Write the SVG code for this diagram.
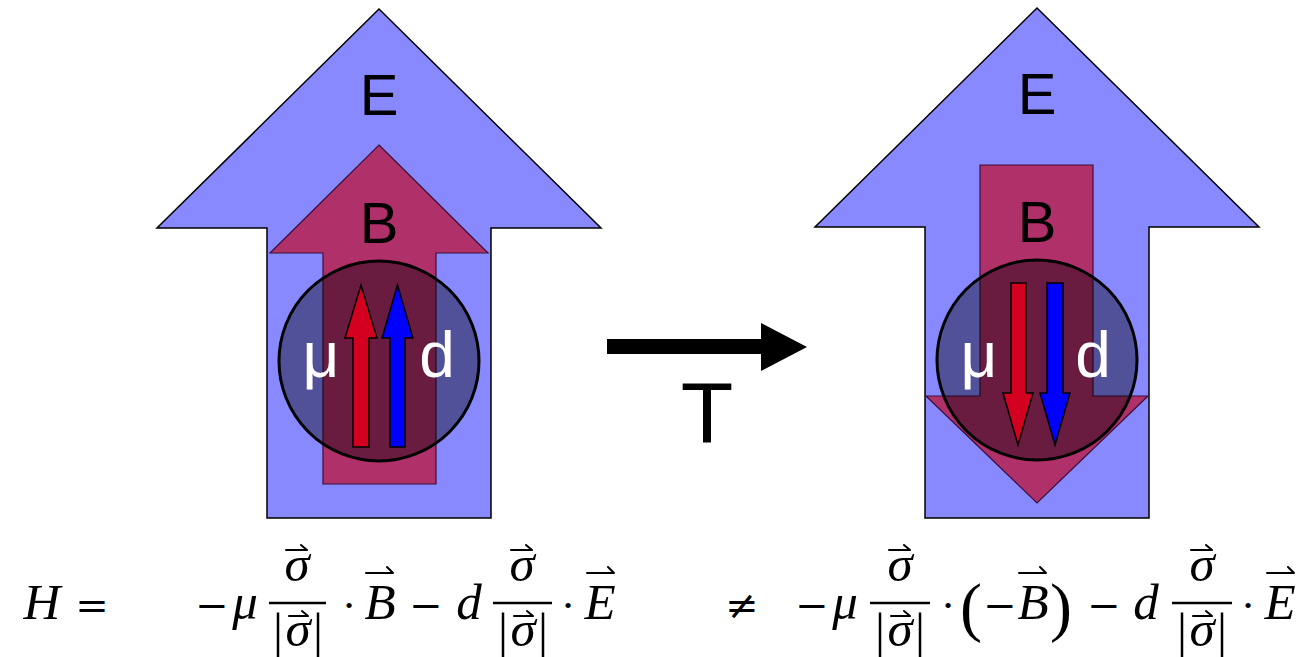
<svg xmlns="http://www.w3.org/2000/svg" width="1306" height="657" viewBox="0 0 1306 657">
<style>
.efld{fill:#8888ff;stroke:#000;stroke-width:1.5;stroke-linejoin:miter}
.bfld{fill:#b0306a;stroke:#3a1038;stroke-width:1.2}
.atom{fill:#000;fill-opacity:0.4;stroke:#000;stroke-width:3}
.mu{fill:#d40020;stroke:#000;stroke-width:1.5}
.dd{fill:#0000ff;stroke:#000;stroke-width:1.5}
.lbl{font-family:"Liberation Sans",Arial,sans-serif;font-size:58px;fill:#000;text-anchor:middle}
.wl{font-family:"Liberation Sans",Arial,sans-serif;font-size:64px;fill:#fff;text-anchor:middle}
.m{font-family:"Liberation Serif","Times New Roman",serif;font-style:italic;font-size:51px;fill:#000;text-anchor:middle}
.o{font-family:"DejaVu Serif",serif;font-size:40px;fill:#000;text-anchor:middle}
.vb{font-family:"Liberation Serif","Times New Roman",serif;font-size:50px;fill:#000;text-anchor:middle}
.par{font-family:"Liberation Serif","Times New Roman",serif;font-size:66px;fill:#000;text-anchor:middle}
.bar{stroke:#000;stroke-width:2.5}
.vec{stroke:#000;stroke-width:2;fill:none;stroke-linecap:round}
</style>

<g id="before">
  <polygon class="efld" points="379,9 601,228 491,228 491,518 267,518 267,228 157,228"/>
  <polygon class="bfld" points="379,145 488,253 436,253 436,484 323,484 323,253 270,253"/>
  <circle class="atom" cx="379" cy="361" r="100"/>
  <polygon class="mu" points="361,285 377,338 369,338 369,447 353,447 353,338 345,338"/>
  <polygon class="dd" points="397.5,285 413,338 405,338 405,447 390,447 390,338 382,338"/>
  <text class="lbl" x="379" y="115">E</text>
  <text class="lbl" x="379" y="243">B</text>
  <text class="wl" x="321" y="377">μ</text>
  <text class="wl" x="437" y="377">d</text>
</g>

<g id="after">
  <polygon class="efld" points="1037,8 1259,227 1149,227 1149,518 925,518 925,227 815,227"/>
  <polygon class="bfld" points="980,165 1093,165 1093,396 1148,396 1037,503 926,396 980,396"/>
  <circle class="atom" cx="1037" cy="360" r="100"/>
  <polygon class="mu" points="1011,283 1026,283 1026,393 1033,393 1018,445 1003,393 1011,393"/>
  <polygon class="dd" points="1047,283 1063,283 1063,393 1070,393 1055,445 1040,393 1047,393"/>
  <text class="lbl" x="1037" y="114">E</text>
  <text class="lbl" x="1037" y="242">B</text>
  <text class="wl" x="979" y="377">μ</text>
  <text class="wl" x="1093" y="377">d</text>
</g>

<g id="connectors">
  <g id="t-arrow">
    <polygon fill="#000" points="607,339 761,339 761,323 807,347 761,371 761,354 607,354"/>
    <text class="lbl" x="707" y="442" style="font-size:86px">T</text>
  </g>
</g>

<g id="equation-left">
  <text class="m" x="42" y="619">H</text>
  <text class="o" x="92" y="619">=</text>
  <text class="o" x="212" y="619">−</text>
  <text class="m" x="245" y="619">μ</text>
  <text class="m" x="297" y="581">σ</text>
  <path class="vec" d="M286 550 H307 M301 545 L307 550"/>
  <line class="bar" x1="269" y1="603" x2="326" y2="603"/>
  <text class="vb" x="278" y="648">|</text>
  <text class="m" x="298" y="646">σ</text>
  <text class="vb" x="318" y="648">|</text>
  <path class="vec" d="M289 616 H308 M302 611 L308 616"/>
  <text class="o" x="349" y="619">·</text>
  <text class="m" x="380" y="619">B</text>
  <path class="vec" d="M366 573 H393 M387 567 L393 573"/>
  <text class="o" x="426" y="619">−</text>
  <text class="m" x="469" y="619">d</text>
  <text class="m" x="522" y="581">σ</text>
  <path class="vec" d="M511 550 H532 M526 545 L532 550"/>
  <line class="bar" x1="493" y1="603" x2="552" y2="603"/>
  <text class="vb" x="503" y="648">|</text>
  <text class="m" x="523" y="646">σ</text>
  <text class="vb" x="543" y="648">|</text>
  <path class="vec" d="M514 616 H533 M527 611 L533 616"/>
  <text class="o" x="568" y="619">·</text>
  <text class="m" x="600" y="619">E</text>
  <path class="vec" d="M587 573 H614 M608 567 L614 573"/>
</g>

<g id="equation-right">
  <text class="o" x="742" y="619">≠</text>
  <text class="o" x="812" y="619">−</text>
  <text class="m" x="845" y="619">μ</text>
  <text class="m" x="900" y="581">σ</text>
  <path class="vec" d="M889 550 H910 M904 545 L910 550"/>
  <line class="bar" x1="870" y1="603" x2="930" y2="603"/>
  <text class="vb" x="880" y="648">|</text>
  <text class="m" x="900" y="646">σ</text>
  <text class="vb" x="920" y="648">|</text>
  <path class="vec" d="M891 616 H910 M904 611 L910 616"/>
  <text class="o" x="948" y="619">·</text>
  <text class="par" x="971" y="629">(</text>
  <text class="o" x="1000" y="619">−</text>
  <text class="m" x="1033" y="619">B</text>
  <path class="vec" d="M1019 573 H1046 M1040 567 L1046 573"/>
  <text class="par" x="1061" y="629">)</text>
  <text class="o" x="1104" y="619">−</text>
  <text class="m" x="1146" y="619">d</text>
  <text class="m" x="1202" y="581">σ</text>
  <path class="vec" d="M1191 550 H1212 M1206 545 L1212 550"/>
  <line class="bar" x1="1172" y1="603" x2="1232" y2="603"/>
  <text class="vb" x="1182" y="648">|</text>
  <text class="m" x="1202" y="646">σ</text>
  <text class="vb" x="1222" y="648">|</text>
  <path class="vec" d="M1193 616 H1212 M1206 611 L1212 616"/>
  <text class="o" x="1248" y="619">·</text>
  <text class="m" x="1280" y="619">E</text>
  <path class="vec" d="M1267 573 H1294 M1288 567 L1294 573"/>
</g>
</svg>
